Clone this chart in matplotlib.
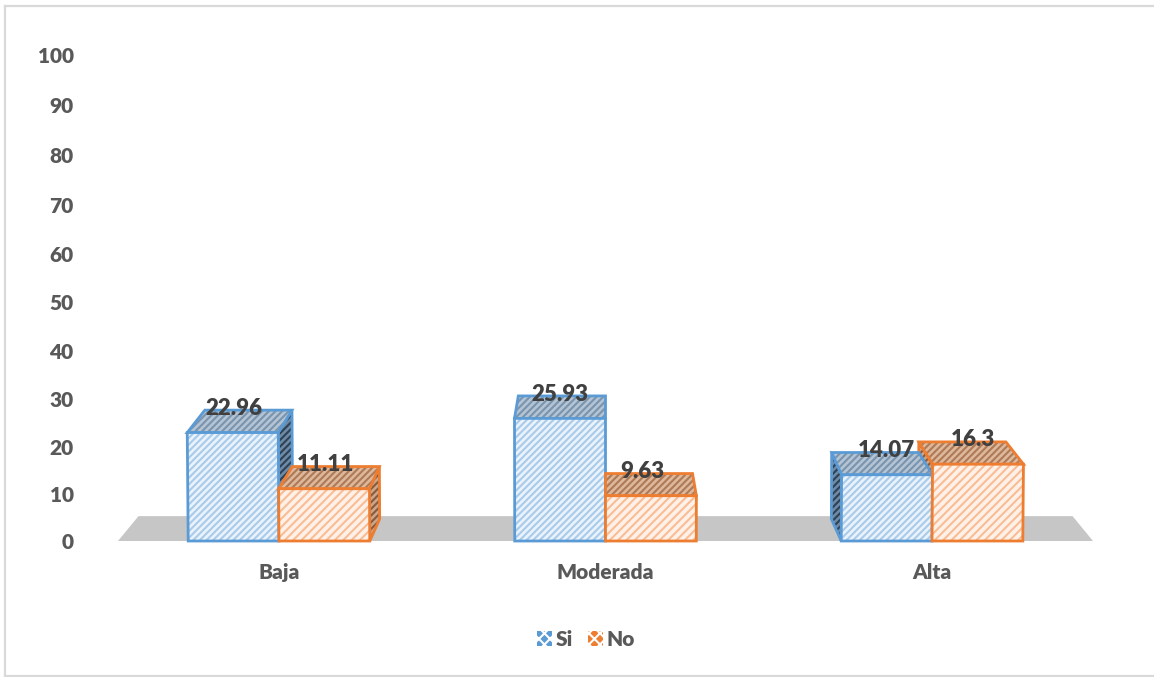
#!/usr/bin/env python
"""Pseudo 3D clustered columns, Si / No per level."""

import numpy as np
import matplotlib
matplotlib.use("Agg")
import matplotlib.pyplot as plt
from matplotlib.lines import Line2D
from matplotlib.patches import Patch, Polygon

categories = ["Baja", "Moderada", "Alta"]
si_values = [22.96, 25.93, 14.07]
no_values = [11.11, 9.63, 16.3]
y_ticks = [0, 10, 20, 30, 40, 50, 60, 70, 80, 90, 100]

BLUE = "#5b9bd5"
ORANGE = "#ed7d31"
TEXT = "#595959"
BAR_W = 0.278
DEPTH_Y = 4.7      # depth of a column, in value units
FLOOR_Y = 5.3
VANISH = 0.042     # share of the distance to the centre column lost at the back
SKEW = 0.1         # tops lean away from the centre

plt.rcParams["font.family"] = ["Lato", "DejaVu Sans"]
plt.rcParams["font.weight"] = "heavy"
plt.rcParams["hatch.linewidth"] = 1.5


def forward(v):
    return v + 0.00038 * v * np.abs(v)


def inverse(h):
    return (np.sqrt(1 + 4 * 0.00038 * np.abs(h)) - 1) / (2 * 0.00038) * np.sign(h)


def back_x(x):
    """x position of a point pushed to the rear of the column."""
    return x + VANISH * (1 - x)


def top_x(x, v):
    """x position of the front face at height v."""
    return x + SKEW * (x - 1) * v / 1000.0


def face(ax, pts, fill, hatch_col, edge, hatch, z):
    ax.add_patch(Polygon(pts, closed=True, facecolor=fill, edgecolor=hatch_col,
                         hatch=hatch, linewidth=0, clip_on=False, zorder=z))
    ax.add_patch(Polygon(pts, closed=True, fill=False, edgecolor=edge,
                         linewidth=2, joinstyle="miter", clip_on=False, zorder=z))


def column(ax, x0, v, colors, hatch, z):
    """Side faces go underneath, then the top and front of the column."""
    edge, front_fill, front_hatch, top_fill, top_hatch, side_fill, side_hatch = colors
    x1 = x0 + BAR_W
    tl, tr = top_x(x0, v), top_x(x1, v)
    ytop = v + DEPTH_Y
    if back_x(x1) > x1:
        face(ax, [(tr, v), (back_x(tr), ytop), (back_x(x1), DEPTH_Y), (x1, 0)],
             side_fill, side_hatch, edge, "/////", 2)
    if back_x(x0) < x0:
        face(ax, [(tl, v), (back_x(tl), ytop), (back_x(x0), DEPTH_Y), (x0, 0)],
             side_fill, side_hatch, edge, "/////", 2)
    face(ax, [(tl, v), (back_x(tl), ytop), (back_x(tr), ytop), (tr, v)],
         top_fill, top_hatch, edge, "/////", z)
    face(ax, [(x0, 0), (tl, v), (tr, v), (x1, 0)],
         front_fill, front_hatch, edge, hatch, z)


fig = plt.figure(figsize=(11.54, 6.77), dpi=100)
ax = fig.add_axes([118 / 1154, 136 / 677, 975 / 1154, 486 / 677])
ax.set_yscale("function", functions=(forward, inverse))
ax.set_xlim(-0.493, 2.493)
ax.set_ylim(0, 100)

# grey floor under the columns
ax.add_patch(Polygon([(-0.493, 0), (back_x(-0.493), FLOOR_Y),
                      (back_x(2.493), FLOOR_Y), (2.493, 0)],
                     closed=True, facecolor="#c6c6c6", edgecolor="none",
                     clip_on=False, zorder=1))

blue_colors = (BLUE, "#eaf3fb", "#a9cbea", "#b4c4d4", "#7a94ae", "#6e8aa6", "#2f4255")
orange_colors = (ORANGE, "#fff1e7", "#f8bd96", "#ddb89c", "#ae7a56", "#c9a68c", "#8a5a3a")

x = np.arange(len(categories))
for i in x:
    column(ax, i - BAR_W, si_values[i], blue_colors, "/////", 3)
    column(ax, i, no_values[i], orange_colors, "////", 4)

# value labels sit on the top face
nudge_si = [0, 0, 0]
nudge_no = [1, -6, -3]
for i in x:
    ax.annotate(f"{si_values[i]:g}", (i - BAR_W / 2, si_values[i] + DEPTH_Y + 0.4),
                xytext=(nudge_si[i], 0), textcoords="offset points",
                ha="center", va="center", fontsize=16, color="#404040",
                annotation_clip=False, zorder=6)
    ax.annotate(f"{no_values[i]:g}", (i + BAR_W / 2, no_values[i] + DEPTH_Y + 0.4),
                xytext=(nudge_no[i], 0), textcoords="offset points",
                ha="center", va="center", fontsize=16, color="#404040",
                annotation_clip=False, zorder=6)

for s in ax.spines.values():
    s.set_visible(False)
ax.patch.set_visible(False)
ax.set_yticks(y_ticks)
ax.set_yticklabels([str(t) for t in y_ticks])
ax.minorticks_off()
ax.set_xticks(x)
ax.set_xticklabels(categories)
ax.tick_params(axis="y", length=0, pad=32, labelsize=15, labelcolor=TEXT)
ax.tick_params(axis="x", length=0, pad=16, labelsize=15, labelcolor=TEXT)

handles = [Patch(facecolor=BLUE, edgecolor="white", hatch="xxx", linewidth=0, label="Si"),
           Patch(facecolor=ORANGE, edgecolor="white", hatch="xxx", linewidth=0, label="No")]
fig.legend(handles=handles, loc="center", bbox_to_anchor=(586 / 1154, 1 - 639 / 677),
           ncol=2, frameon=False, fontsize=15, labelcolor=TEXT, handlelength=0.72,
           handleheight=0.72, handletextpad=0.2, columnspacing=0.7, borderpad=0)

# thin chart border
for xs, ys in [((5, 1154), (6, 6)), ((5, 5), (6, 677)), ((5, 1154), (676, 676))]:
    fig.add_artist(Line2D([a / 1154 for a in xs], [1 - b / 677 for b in ys],
                          color="#d9d9d9", linewidth=1.6))

fig.savefig("out.png", dpi=100)
